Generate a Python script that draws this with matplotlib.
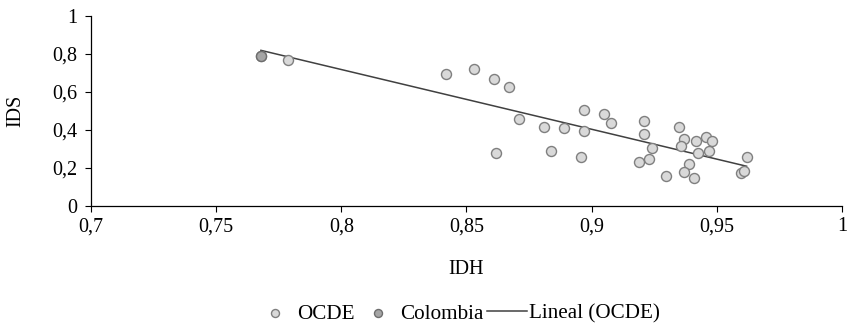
import numpy as np
import matplotlib
matplotlib.use("Agg")
import matplotlib.pyplot as plt
from matplotlib.ticker import FixedLocator, FuncFormatter

plt.rcParams['font.family'] = ['Liberation Serif', 'DejaVu Serif']

ocde_idh = [0.7679, 0.7788, 0.8419, 0.8530, 0.8609, 0.8669, 0.8710, 0.8810, 0.8618,
            0.8888, 0.8969, 0.9049, 0.9079, 0.8969, 0.8839, 0.8959, 0.9210, 0.9210,
            0.9240, 0.9189, 0.9228, 0.9298, 0.9349, 0.9369, 0.9358, 0.9418, 0.9458,
            0.9481, 0.9427, 0.9469, 0.9390, 0.9369, 0.9409, 0.9619, 0.9598, 0.9609]
ocde_ids = [0.791, 0.767, 0.695, 0.719, 0.670, 0.628, 0.458, 0.414, 0.279,
            0.412, 0.504, 0.484, 0.437, 0.395, 0.289, 0.256, 0.449, 0.379,
            0.304, 0.233, 0.246, 0.158, 0.414, 0.351, 0.316, 0.344, 0.365,
            0.344, 0.277, 0.288, 0.221, 0.177, 0.149, 0.256, 0.172, 0.184]
col_idh = [0.7679]
col_ids = [0.791]

x_ticks = [0.7, 0.75, 0.8, 0.85, 0.9, 0.95, 1.0]
y_ticks = [0, 0.2, 0.4, 0.6, 0.8, 1.0]

FS = 14.5
LFS = 15.2

fig = plt.figure(figsize=(8.47, 3.25), dpi=100)
ax = fig.add_axes([0.1074, 0.366, 0.8866, 0.585])

ax.scatter(ocde_idh, ocde_ids, s=52, facecolor='#d9d9d9', edgecolor='#7f7f7f',
           linewidth=1.0, zorder=3, label='OCDE')
ax.scatter(col_idh, col_ids, s=52, facecolor='#a5a5a5', edgecolor='#6e6e6e',
           linewidth=1.0, zorder=4, label='Colombia')

coef = np.polyfit(ocde_idh, ocde_ids, 1)
xs = np.array([min(ocde_idh), max(ocde_idh)])
ax.plot(xs, np.polyval(coef, xs), color='#404040', linewidth=1.1, zorder=2,
        label='Lineal (OCDE)')

ax.set_xlim(0.7, 1.0)
ax.set_ylim(0, 1.0)
ax.xaxis.set_major_locator(FixedLocator(x_ticks))
ax.yaxis.set_major_locator(FixedLocator(y_ticks))
fmt = FuncFormatter(lambda v, p: ('%g' % round(v, 2)).replace('.', ','))
ax.xaxis.set_major_formatter(fmt)
ax.yaxis.set_major_formatter(fmt)

for s in ['top', 'right']:
    ax.spines[s].set_visible(False)
for s in ['left', 'bottom']:
    ax.spines[s].set_color('#000000')
    ax.spines[s].set_linewidth(0.9)
ax.tick_params(axis='both', labelsize=FS, length=4, width=0.8, color='#000000',
               direction='out')
ax.tick_params(axis='x', pad=4)
ax.tick_params(axis='y', pad=6)

ax.set_xlabel('IDH', fontsize=FS, labelpad=17)
ax.set_ylabel('IDS', fontsize=FS, labelpad=19)

fig.legend(loc='center', bbox_to_anchor=(0.54, 0.035), ncol=3, frameon=False,
           fontsize=LFS, handlelength=1.9, columnspacing=0.15, handletextpad=0.1,
           markerscale=0.8, borderpad=0.0)

fig.savefig('out.png', dpi=100)
